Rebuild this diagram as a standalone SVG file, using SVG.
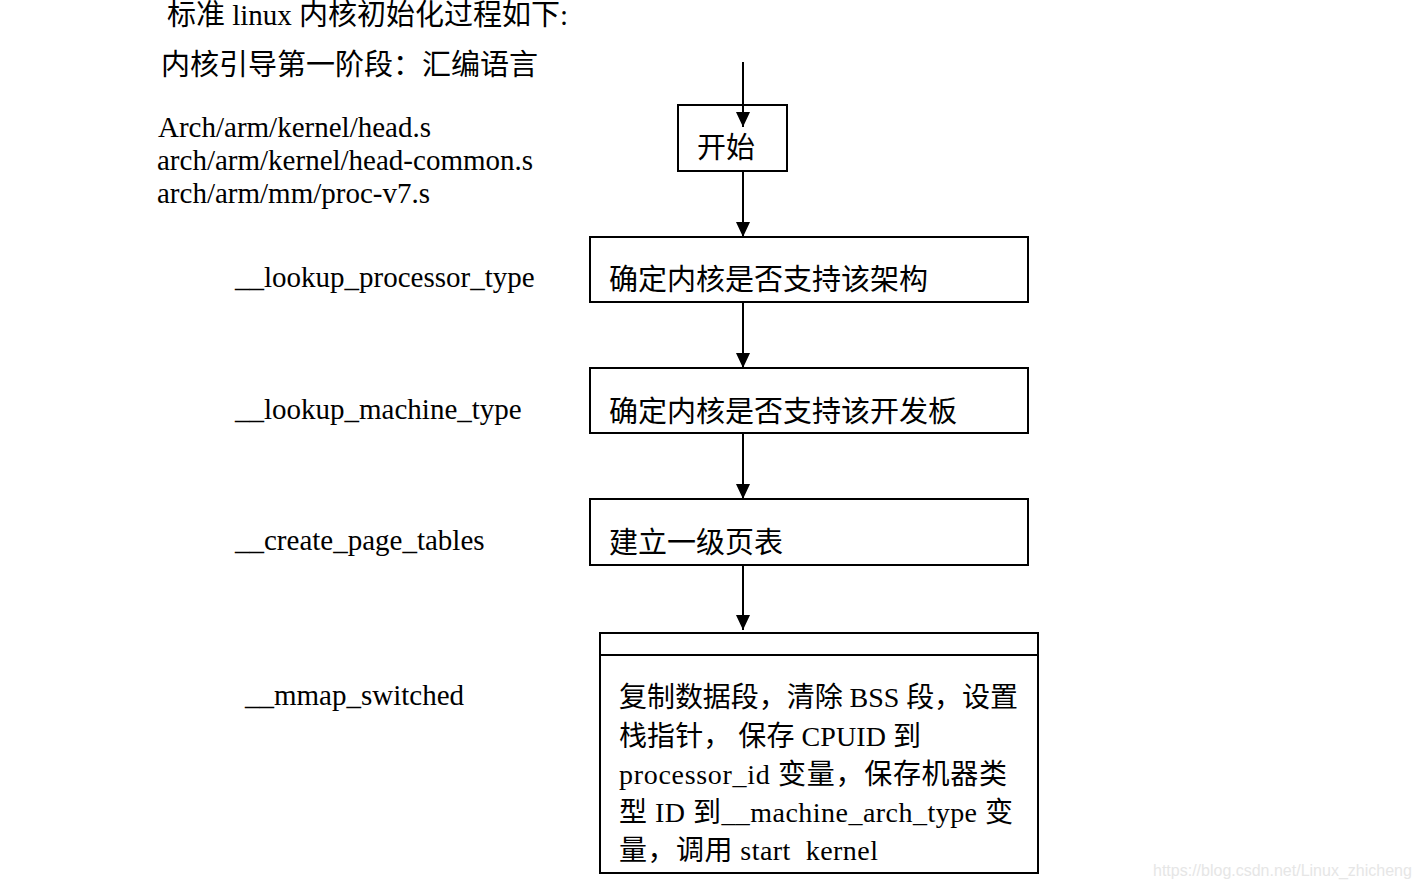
<svg xmlns="http://www.w3.org/2000/svg" width="1419" height="887" viewBox="0 0 1419 887">
<style>
  text { font-family: "Liberation Serif", "Noto Sans CJK SC", serif; font-size: 29px; fill: #000; white-space: pre; }
  .b4 { font-size: 28px; }
  .box { fill: #fff; stroke: #000; stroke-width: 2; }
  .conn { stroke: #000; stroke-width: 2; fill: none; }
  .wm { font-family: "Liberation Sans", Arial, sans-serif; font-size: 16px; fill: #e6e6e6; }
</style>
<defs>
  <marker id="arr" markerWidth="15" markerHeight="14" refX="15" refY="7" orient="auto" markerUnits="userSpaceOnUse" viewBox="0 0 15 14">
    <path d="M0,0 L15,7 L0,14 Z" fill="#000"/>
  </marker>
</defs>
<rect width="1419" height="887" fill="#fff"/>
<g id="labels">
  <text x="167" y="25">标准 linux 内核初始化过程如下:</text>
  <text x="161" y="75">内核引导第一阶段：汇编语言</text>
  <text x="158" y="137">Arch/arm/kernel/head.s</text>
  <text x="157" y="170">arch/arm/kernel/head-common.s</text>
  <text x="157" y="203">arch/arm/mm/proc-v7.s</text>
  <text x="235" y="287">__lookup_processor_type</text>
  <text x="235" y="419">__lookup_machine_type</text>
  <text x="235" y="550">__create_page_tables</text>
  <text x="245" y="705">__mmap_switched</text>
</g>
<g id="node-start">
  <rect class="box" x="678" y="105" width="109" height="66"/>
  <text x="697" y="158">开始</text>
</g>
<g id="node-arch">
  <rect class="box" x="590" y="237" width="438" height="65"/>
  <text x="609" y="290">确定内核是否支持该架构</text>
</g>
<g id="node-board">
  <rect class="box" x="590" y="368" width="438" height="65"/>
  <text x="609" y="422">确定内核是否支持该开发板</text>
</g>
<g id="node-page">
  <rect class="box" x="590" y="499" width="438" height="66"/>
  <text x="609" y="553">建立一级页表</text>
</g>
<g id="node-mmap">
  <rect class="box" x="600" y="633" width="438" height="240"/>
  <line class="conn" x1="600" y1="655" x2="1038" y2="655"/>
  <text class="b4" x="619" y="707" textLength="399" lengthAdjust="spacing">复制数据段，清除 BSS 段，设置</text>
  <text class="b4" x="619" y="746" textLength="302" lengthAdjust="spacing">栈指针， 保存 CPUID 到</text>
  <text class="b4" x="619" y="784" textLength="388" lengthAdjust="spacing">processor_id 变量，保存机器类</text>
  <text class="b4" x="619" y="822" textLength="394" lengthAdjust="spacing">型 ID 到__machine_arch_type 变</text>
  <text class="b4" x="619" y="860" textLength="259" lengthAdjust="spacing">量，调用 start  kernel</text>
</g>
<g id="connectors">
  <line class="conn" x1="743" y1="62" x2="743" y2="127" marker-end="url(#arr)"/>
  <line class="conn" x1="743" y1="171" x2="743" y2="237" marker-end="url(#arr)"/>
  <line class="conn" x1="743" y1="302" x2="743" y2="368" marker-end="url(#arr)"/>
  <line class="conn" x1="743" y1="433" x2="743" y2="499" marker-end="url(#arr)"/>
  <line class="conn" x1="743" y1="565" x2="743" y2="630" marker-end="url(#arr)"/>
</g>
<text class="wm" x="1153" y="876">https://blog.csdn.net/Linux_zhicheng</text>
</svg>
